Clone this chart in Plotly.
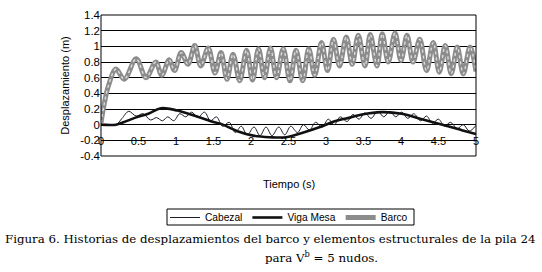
import plotly.graph_objects as go

# ---- data ----
barco_t = [0, 0.04, 0.1, 0.2, 0.31, 0.47, 0.6, 0.73, 0.81, 0.91, 0.98, 1.07, 1.16, 1.25, 1.33,
           1.43, 1.52, 1.6, 1.68, 1.76, 1.85, 1.94, 2.02, 2.10, 2.18, 2.26, 2.34, 2.43, 2.52,
           2.60, 2.69, 2.77, 2.85, 2.94, 3.02, 3.10, 3.18, 3.27, 3.35, 3.43, 3.52, 3.59, 3.68,
           3.75, 3.83, 3.92, 4.0, 4.08, 4.16, 4.25, 4.34, 4.43, 4.51, 4.59, 4.67, 4.75, 4.83,
           4.92, 5.0]
barco_v = [0.02, 0.25, 0.5, 0.71, 0.58, 0.84, 0.6, 0.8, 0.63, 0.83, 0.69, 0.92, 0.77, 1.01, 0.75,
           0.98, 0.66, 0.92, 0.58, 0.9, 0.56, 0.95, 0.57, 0.97, 0.6, 0.98, 0.6, 0.97, 0.56,
           0.95, 0.56, 0.97, 0.63, 1.05, 0.69, 1.09, 0.75, 1.12, 0.77, 1.14, 0.75, 1.15, 0.75,
           1.16, 0.8, 1.17, 0.82, 1.14, 0.8, 1.09, 0.69, 1.05, 0.67, 1.01, 0.65, 0.99, 0.65,
           0.99, 0.68]

viga_t = [0, 0.2, 0.3, 0.46, 0.63, 0.8, 1.02, 1.29, 1.51, 1.6, 1.81, 2.03, 2.25, 2.47, 2.7,
          2.92, 3.14, 3.32, 3.48, 3.74, 4.01, 4.28, 4.59, 4.81, 5.0]
viga_v = [0, 0, 0.03, 0.09, 0.14, 0.21, 0.18, 0.1, 0.03, 0.01, -0.08, -0.14, -0.16, -0.16, -0.1,
          -0.03, 0.05, 0.09, 0.13, 0.16, 0.14, 0.07, -0.01, -0.07, -0.12]

cab_t = [0, 0.2, 0.28, 0.37, 0.47, 0.56, 0.66, 0.74, 0.82, 0.89, 0.97, 1.05, 1.13, 1.21, 1.29,
         1.38, 1.46, 1.54, 1.62, 1.71, 1.79, 1.87, 1.95, 2.04, 2.12, 2.20, 2.28, 2.37, 2.45,
         2.53, 2.62, 2.70, 2.78, 2.86, 2.95, 3.03, 3.11, 3.19, 3.28, 3.36, 3.44, 3.52, 3.60,
         3.69, 3.77, 3.85, 3.93, 4.01, 4.09, 4.17, 4.26, 4.34, 4.42, 4.50, 4.58, 4.66, 4.75,
         4.83, 4.91, 5.0]
cab_v = [0, 0, 0.08, 0.17, 0.11, 0.14, 0.06, 0.09, 0.05, 0.1, 0.05, 0.14, 0.1, 0.16, 0.09,
         0.16, 0.05, 0.1, -0.02, 0.03, -0.1, -0.02, -0.13, -0.03, -0.14, -0.03, -0.14, -0.03, -0.13,
         -0.02, -0.1, 0.0, -0.07, 0.03, -0.03, 0.07, 0.0, 0.1, 0.04, 0.13, 0.07, 0.15, 0.08,
         0.17, 0.1, 0.17, 0.1, 0.16, 0.08, 0.14, 0.05, 0.11, 0.02, 0.07, -0.02, 0.03, -0.05,
         0.0, -0.08, -0.01]

y_ticks = [-0.4, -0.2, 0, 0.2, 0.4, 0.6, 0.8, 1.0, 1.2, 1.4]
y_labels = ["-0.4", "-0.2", "0", "0.2", "0.4", "0.6", "0.8", "1", "1.2", "1.4"]
x_ticks = [0, 0.5, 1, 1.5, 2, 2.5, 3, 3.5, 4, 4.5, 5]
x_labels = ["0", "0.5", "1", "1.5", "2", "2.5", "3", "3.5", "4", "4.5", "5"]

FONT = "Liberation Sans, Arial, sans-serif"
SERIF = "DejaVu Serif, serif"

# plot area in pixels (for converting layout positions to paper fractions)
PL, PR, PT, PB = 101, 476, 15, 156
def px(x):
    return (x - PL) / (PR - PL)
def py(y):
    return (PB - y) / (PB - PT)

fig = go.Figure()
fig.add_trace(go.Scatter(x=cab_t, y=cab_v, mode="lines", name="Cabezal",
                         line=dict(color="#1c1c2a", width=1, shape="spline")))
fig.add_trace(go.Scatter(x=viga_t, y=viga_v, mode="lines", name="Viga Mesa",
                         line=dict(color="#111111", width=2.6, shape="spline")))
fig.add_trace(go.Scatter(x=barco_t, y=barco_v, mode="lines", name="Barco",
                         line=dict(color="#8c8c8c", width=5, shape="spline")))
fig.add_trace(go.Scatter(x=barco_t, y=barco_v, mode="lines", showlegend=False, hoverinfo="skip",
                         line=dict(color="#dcdcdc", width=1.4, dash="dot", shape="spline")))

fig.update_layout(
    width=542, height=272,
    margin=dict(l=PL, r=542 - PR, t=PT, b=272 - PB, autoexpand=False),
    paper_bgcolor="white", plot_bgcolor="white",
    font=dict(family=FONT, size=11, color="black"),
    showlegend=True,
    legend=dict(orientation="h", x=px(289), y=py(217.5), xanchor="center", yanchor="middle",
                bgcolor="rgba(0,0,0,0)", borderwidth=0, font=dict(size=10.2),
                tracegroupgap=0, itemwidth=30),
    xaxis=dict(range=[0, 5], tickvals=x_ticks, ticktext=x_labels, showgrid=False,
               zeroline=False, showline=False, ticks="", anchor="free",
               position=0.4 / 1.8, ticklabelstandoff=8, tickfont=dict(size=11)),
    yaxis=dict(range=[-0.4, 1.4], tickvals=y_ticks, ticktext=y_labels, showgrid=True,
               gridcolor="black", gridwidth=1, zeroline=False, showline=False, ticks="",
               tickfont=dict(size=11.5),
               title=dict(text="Desplazamiento (m)", font=dict(size=11), standoff=8)),
    shapes=[dict(type="rect", xref="paper", yref="paper", x0=0, x1=1, y0=0, y1=1,
                 line=dict(color="black", width=1)),
            dict(type="rect", xref="paper", yref="paper", x0=px(167), x1=px(414),
                 y0=py(209), y1=py(225), line=dict(color="black", width=1))],
    annotations=[
        dict(text="Tiempo (s)", xref="paper", yref="paper", x=0.5, y=py(184),
             xanchor="center", yanchor="middle", showarrow=False, font=dict(size=11)),
        dict(text="Figura 6. Historias de desplazamientos del barco y elementos estructurales de la pila 24",
             xref="paper", yref="paper", x=px(3), y=py(239),
             xanchor="left", yanchor="middle", showarrow=False,
             font=dict(family=SERIF, size=11.8)),
        dict(text="para V<sup>b</sup> = 5 nudos.",
             xref="paper", yref="paper", x=px(263), y=py(257),
             xanchor="left", yanchor="middle", showarrow=False,
             font=dict(family=SERIF, size=11.8)),
    ],
)

fig.write_html("out.html", config={"displayModeBar": False},
               post_script="document.body.style.margin='0';")
